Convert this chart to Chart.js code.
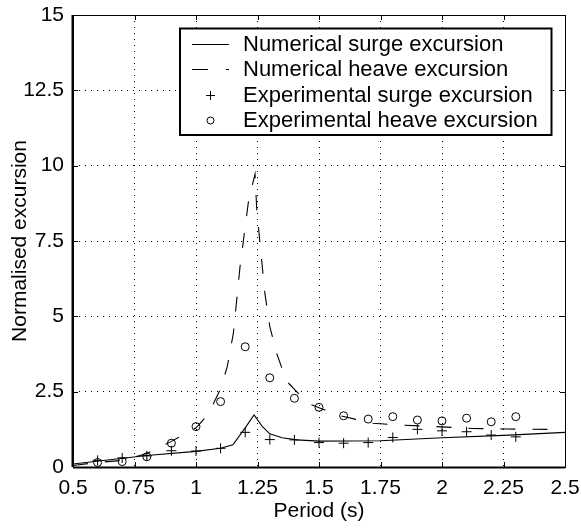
<!DOCTYPE html>
<html>
<head>
<meta charset="utf-8">
<script src="https://cdn.jsdelivr.net/npm/chart.js@4/dist/chart.umd.min.js"></script>
<style>
html,body{margin:0;padding:0;background:#fff;}
#wrap{width:581px;height:530px;}
</style>
</head>
<body>
<div id="wrap"><canvas id="c" width="581" height="530"></canvas></div>
<script>
// ---- data ----
const xTicks = [0.5, 0.75, 1, 1.25, 1.5, 1.75, 2, 2.25, 2.5];
const yTicks = [0, 2.5, 5, 7.5, 10, 12.5, 15];
const xLabels = ["0.5", "0.75", "1", "1.25", "1.5", "1.75", "2", "2.25", "2.5"];
const yLabels = ["0", "2.5", "5", "7.5", "10", "12.5", "15"];

const numSurgeX = [0.5, 0.8, 1.0, 1.1, 1.15, 1.2, 1.236, 1.27, 1.3, 1.35, 1.41, 1.5, 1.75, 2.0, 2.25, 2.5];
const numSurgeY = [0.1, 0.38, 0.52, 0.62, 0.74, 1.3, 1.73, 1.34, 1.1, 0.97, 0.9, 0.86, 0.87, 0.97, 1.05, 1.15];

const numHeaveX = [0.5, 0.6, 0.7, 0.8, 0.9, 1.0, 1.05, 1.1, 1.127, 1.152, 1.179, 1.214, 1.24, 1.247, 1.263, 1.28, 1.3, 1.328, 1.368, 1.456, 1.572, 1.72, 1.84, 1.978, 2.126, 2.263, 2.43];
const numHeaveY = [0.05, 0.15, 0.22, 0.45, 0.85, 1.3, 1.75, 2.6, 3.33, 4.44, 6.65, 8.86, 9.72, 8.53, 7.2, 5.76, 4.66, 3.77, 2.85, 2.11, 1.73, 1.45, 1.39, 1.34, 1.28, 1.26, 1.25];

const expX = [0.6, 0.7, 0.8, 0.9, 1.0, 1.1, 1.2, 1.3, 1.4, 1.5, 1.6, 1.7, 1.8, 1.9, 2.0, 2.1, 2.2, 2.3];
const expSurge = [0.22, 0.3, 0.37, 0.54, 0.53, 0.62, 1.15, 0.91, 0.9, 0.81, 0.79, 0.81, 0.98, 1.25, 1.2, 1.17, 1.06, 1.0];
const expHeave = [0.15, 0.18, 0.34, 0.79, 1.34, 2.17, 3.99, 2.96, 2.28, 1.98, 1.7, 1.59, 1.67, 1.56, 1.53, 1.62, 1.5, 1.67];

const seriesNames = ["Numerical surge excursion", "Numerical heave excursion", "Experimental surge excursion", "Experimental heave excursion"];

const zip = (xs, ys) => xs.map((x, i) => ({x: x, y: ys[i]}));
const FONT = "'Liberation Sans', Arial, Helvetica, sans-serif";

const frameTicks = {
  id: 'frameTicks',
  afterDraw(chart) {
    const {ctx, chartArea: a, scales} = chart;
    ctx.save();
    ctx.strokeStyle = '#000';
    ctx.lineWidth = 1;
    const L = 5;
    ctx.beginPath();
    xTicks.forEach(v => {
      const px = Math.round(scales.x.getPixelForValue(v)) + 0.5;
      ctx.moveTo(px, a.bottom); ctx.lineTo(px, a.bottom - L);
      ctx.moveTo(px, a.top); ctx.lineTo(px, a.top + L);
    });
    yTicks.forEach(v => {
      const py = Math.round(scales.y.getPixelForValue(v)) + 0.5;
      ctx.moveTo(a.left, py); ctx.lineTo(a.left + L, py);
      ctx.moveTo(a.right, py); ctx.lineTo(a.right - L, py);
    });
    ctx.stroke();
    // frame
    ctx.lineWidth = 1;
    ctx.strokeRect(Math.round(a.left) + 0.5, Math.round(a.top) + 0.5, Math.round(a.right - a.left), Math.round(a.bottom - a.top));
    ctx.lineWidth = 2;
    ctx.beginPath();
    ctx.moveTo(a.left, a.bottom + 0.5); ctx.lineTo(a.right, a.bottom + 0.5);
    ctx.moveTo(a.left - 0.5, a.top); ctx.lineTo(a.left - 0.5, a.bottom);
    ctx.stroke();

    // legend
    const bx = 180, by = 28.5, bw = 371.5, bh = 106.5;
    ctx.fillStyle = '#fff';
    ctx.fillRect(bx, by, bw, bh);
    ctx.lineWidth = 2;
    ctx.strokeRect(bx, by, bw, bh);
    ctx.font = '22px ' + FONT;
    ctx.fillStyle = '#000';
    ctx.textBaseline = 'middle';
    ctx.textAlign = 'left';
    const rows = [44, 69, 95, 120];
    chart.data.datasets.forEach((ds, i) => {
      const y = rows[i];
      ctx.lineWidth = 1;
      ctx.strokeStyle = '#000';
      if (i === 0) {
        ctx.beginPath(); ctx.moveTo(192, y + 0.5); ctx.lineTo(229, y + 0.5); ctx.stroke();
      } else if (i === 1) {
        ctx.beginPath(); ctx.moveTo(192, y + 0.5); ctx.lineTo(208, y + 0.5);
        ctx.moveTo(226, y + 0.5); ctx.lineTo(229, y + 0.5); ctx.stroke();
      } else if (i === 2) {
        ctx.beginPath(); ctx.moveTo(206, y + 0.5); ctx.lineTo(215, y + 0.5);
        ctx.moveTo(210.5, y - 4); ctx.lineTo(210.5, y + 5); ctx.stroke();
      } else {
        ctx.beginPath(); ctx.arc(210.5, y + 0.5, 3.5, 0, Math.PI * 2); ctx.stroke();
      }
      ctx.fillText(ds.label, 243, y + 1);
    });
    ctx.restore();
  }
};

new Chart(document.getElementById('c'), {
  type: 'scatter',
  data: {
    datasets: [
      {label: seriesNames[0], data: zip(numSurgeX, numSurgeY), showLine: true, borderColor: '#000', borderWidth: 1.1, pointRadius: 0, tension: 0, fill: false},
      {label: seriesNames[1], data: zip(numHeaveX, numHeaveY), showLine: true, borderColor: '#000', borderWidth: 1.1, borderDash: [15, 17], pointRadius: 0, tension: 0, fill: false},
      {label: seriesNames[2], data: zip(expX, expSurge), showLine: false, pointStyle: 'cross', pointRadius: 5, borderColor: '#000', borderWidth: 1, backgroundColor: 'transparent'},
      {label: seriesNames[3], data: zip(expX, expHeave), showLine: false, pointStyle: 'circle', pointRadius: 4, borderColor: '#000', borderWidth: 1, backgroundColor: 'transparent'}
    ]
  },
  options: {
    responsive: false,
    animation: false,
    devicePixelRatio: 1,
    layout: {padding: {top: 15, right: 16, left: 0, bottom: 0}},
    plugins: {legend: {display: false}, tooltip: {enabled: false}},
    scales: {
      x: {
        type: 'linear', min: 0.5, max: 2.5,
        afterBuildTicks: s => { s.ticks = xTicks.map(v => ({value: v})); },
        afterFit: s => { s.height = 63; s.paddingLeft = 0; s.paddingRight = 0; },
        ticks: {color: '#000', font: {family: FONT, size: 21}, padding: 9, maxRotation: 0, autoSkip: false,
          callback: (v) => xLabels[xTicks.indexOf(v)] ?? ''},
        grid: {color: '#000', lineWidth: 1, drawTicks: false},
        border: {display: false, dash: [1, 5]},
        title: {display: true, text: 'Period (s)', color: '#000', font: {family: FONT, size: 21}, padding: {top: 0, bottom: 6}}
      },
      y: {
        type: 'linear', min: 0, max: 15,
        afterBuildTicks: s => { s.ticks = yTicks.map(v => ({value: v})); },
        afterFit: s => { s.width = 73; s.paddingTop = 0; s.paddingBottom = 0; },
        ticks: {color: '#000', font: {family: FONT, size: 21}, padding: 9, autoSkip: false,
          callback: (v) => yLabels[yTicks.indexOf(v)] ?? ''},
        grid: {color: '#000', lineWidth: 1, drawTicks: false},
        border: {display: false, dash: [1, 5]},
        title: {display: true, text: 'Normalised excursion', color: '#000', font: {family: FONT, size: 21}, padding: {top: 8, bottom: 0}}
      }
    }
  },
  plugins: [frameTicks]
});
</script>
</body>
</html>
